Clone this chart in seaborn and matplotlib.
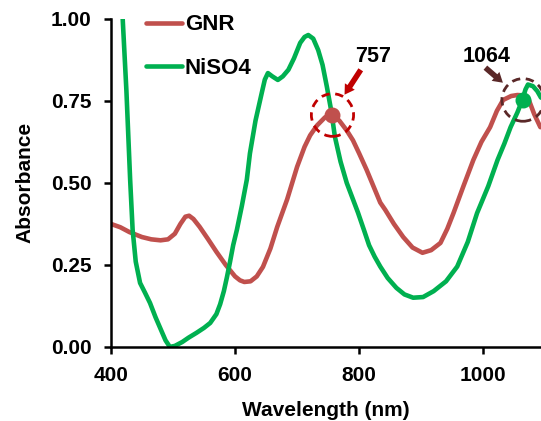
import pandas as pd
import seaborn as sns
import matplotlib.pyplot as plt
from matplotlib.patches import Ellipse

# spectra
gnr_wl = [400, 415, 430, 450, 465, 480, 492, 503, 512, 520, 526, 533, 543, 556,
          570, 585, 600, 608, 615, 625, 635, 645, 657, 668, 684, 700, 712, 721,
          732, 745, 757, 768, 780, 790, 800, 812, 823, 834, 842, 856, 871, 886,
          902, 916, 931, 942, 952, 968, 984, 997, 1011, 1022, 1032, 1045, 1055,
          1064, 1072, 1082, 1092]
gnr_abs = [0.375, 0.365, 0.35, 0.335, 0.328, 0.325, 0.328, 0.345, 0.375, 0.397,
           0.40, 0.39, 0.366, 0.33, 0.29, 0.25, 0.215, 0.203, 0.198, 0.20, 0.215,
           0.244, 0.30, 0.366, 0.45, 0.549, 0.61, 0.645, 0.675, 0.70, 0.707, 0.69,
           0.66, 0.63, 0.59, 0.54, 0.49, 0.44, 0.418, 0.375, 0.335, 0.303, 0.287,
           0.295, 0.317, 0.36, 0.408, 0.49, 0.57, 0.625, 0.67, 0.72, 0.753, 0.765,
           0.768, 0.767, 0.76, 0.71, 0.67]

ni_wl = [412, 419, 425, 431, 435, 440, 447, 455, 463, 472, 480, 488, 495, 503,
         515, 525, 538, 550, 560, 570, 576, 582, 587, 592, 597, 603, 611, 619,
         624, 633, 643, 648, 653, 660, 669, 677, 686, 695, 705, 712, 718, 726,
         734, 741, 748, 755, 761, 770, 780, 790, 798, 808, 816, 825, 834, 846,
         860, 873, 887, 903, 920, 940, 958, 975, 990, 1008, 1023, 1034, 1044,
         1055, 1063, 1068, 1072, 1080, 1087, 1093]
ni_abs = [1.15, 1.0, 0.78, 0.51, 0.357, 0.26, 0.195, 0.165, 0.134, 0.09, 0.055,
          0.02, 0.0, 0.003, 0.015, 0.028, 0.043, 0.058, 0.073, 0.10, 0.13, 0.17,
          0.213, 0.26, 0.31, 0.357, 0.43, 0.51, 0.59, 0.69, 0.774, 0.815, 0.835,
          0.825, 0.814, 0.825, 0.845, 0.88, 0.927, 0.945, 0.951, 0.94, 0.905,
          0.86, 0.793, 0.72, 0.64, 0.565, 0.50, 0.45, 0.41, 0.355, 0.31, 0.275,
          0.245, 0.21, 0.18, 0.16, 0.15, 0.152, 0.17, 0.20, 0.245, 0.32, 0.408,
          0.49, 0.57, 0.62, 0.67, 0.715, 0.753, 0.785, 0.80, 0.795, 0.78, 0.76]

peak_labels = ["757", "1064"]
peak_wl = [757, 1064]
peak_abs = [0.707, 0.753]

RED = "#C0504D"
GREEN = "#00B050"

sns.set_style("ticks")
plt.rcParams["font.family"] = ["Liberation Sans", "DejaVu Sans"]
plt.rcParams["font.weight"] = "bold"
for k in ["text.color", "axes.labelcolor", "xtick.color", "ytick.color", "axes.edgecolor"]:
    plt.rcParams[k] = "black"

df_gnr = pd.DataFrame({"wl": gnr_wl, "abs": gnr_abs})
df_ni = pd.DataFrame({"wl": ni_wl, "abs": ni_abs})

fig = plt.figure(figsize=(5.41, 4.21), dpi=100)
ax = fig.add_axes([0.205, 0.176, 0.795, 0.779])

sns.lineplot(data=df_gnr, x="wl", y="abs", color=RED, lw=3.3, label="GNR", ax=ax,
             solid_joinstyle="round", solid_capstyle="round")
sns.lineplot(data=df_ni, x="wl", y="abs", color=GREEN, lw=3.3, label="NiSO4", ax=ax,
             solid_joinstyle="round", solid_capstyle="round")

ax.set_xlim(400, 1093)
ax.set_ylim(0, 1.0)
ax.set_xticks([400, 600, 800, 1000])
ax.set_yticks([0, 0.25, 0.5, 0.75, 1.0])
ax.set_yticklabels(["0.00", "0.25", "0.50", "0.75", "1.00"])
sns.despine(ax=ax)
for s in ["left", "bottom"]:
    ax.spines[s].set_linewidth(1.8)
ax.tick_params(width=1.8, length=5, labelsize=15)
ax.tick_params(axis="y", pad=9)
ax.tick_params(axis="x", pad=9)
for t in ax.get_xticklabels() + ax.get_yticklabels():
    t.set_fontweight("bold")

ax.set_xlabel("Wavelength (nm)", fontsize=15, fontweight="bold", labelpad=11)
ax.set_ylabel("Absorbance", fontsize=15, fontweight="bold", labelpad=12)

# peak markers
ax.scatter([peak_wl[0]], [peak_abs[0]], s=110, color=RED, zorder=5)
ax.scatter([peak_wl[1]], [peak_abs[1]], s=110, color=GREEN, zorder=5)

circ_cols = ["#C00000", "#5A2828"]
text_pos = [(822, 0.887), (1005, 0.887)]
arrow_from = [(805, 0.852), (1000, 0.857)]
arrow_to = [(774, 0.762), (1035, 0.80)]
for i in range(2):
    ax.add_patch(Ellipse((peak_wl[i], peak_abs[i]), 68, 0.13, fill=False,
                         ec=circ_cols[i], lw=2, ls=(0, (3, 2)), zorder=6))
    ax.text(*text_pos[i], peak_labels[i], ha="center", va="center",
            fontsize=15.5, fontweight="bold")
    ax.annotate("", xy=arrow_to[i], xytext=arrow_from[i],
                arrowprops=dict(arrowstyle="simple,head_width=0.85,head_length=0.7,tail_width=0.4",
                                color=circ_cols[i], lw=0))

leg = ax.legend(loc="upper left", bbox_to_anchor=(0.035, 1.075), frameon=False,
                fontsize=16, handlelength=1.6, handletextpad=0.15, labelspacing=1.0)
for t in leg.get_texts():
    t.set_fontweight("bold")

fig.savefig("out.png", dpi=100)
